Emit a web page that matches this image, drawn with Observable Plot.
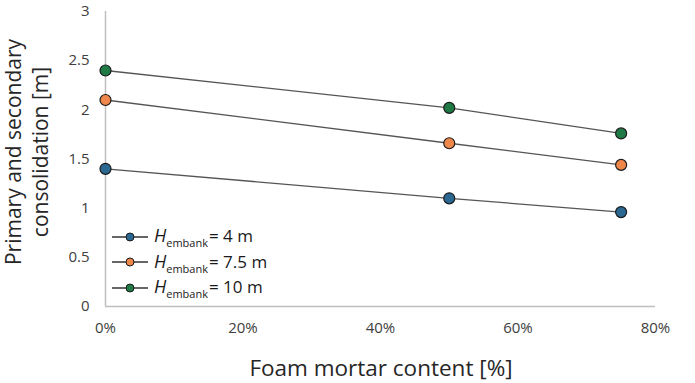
<!DOCTYPE html>
<html>
<head>
<meta charset="utf-8">
<script src="https://cdn.jsdelivr.net/npm/d3@7"></script>
<script src="https://cdn.jsdelivr.net/npm/@observablehq/plot@0.6"></script>
<style>
  html, body { margin: 0; padding: 0; background: #fff; }
  #wrap { position: relative; width: 695px; height: 383px; overflow: hidden; font-family: "Open Sans", sans-serif; }
  #ytitle { position: absolute; left: 27px; top: 152px; transform: translate(-50%, -50%) rotate(-90deg);
    font-size: 21px; line-height: 27px; text-align: center; white-space: nowrap; color: #262626; }
  #xtitle { position: absolute; left: 381px; top: 356px; transform: translateX(-50%);
    font-size: 22.5px; line-height: 24px; white-space: nowrap; color: #262626; }
  #legend { position: absolute; left: 112px; top: 224px; font-size: 17px; color: #1a1a1a; }
  .row { display: flex; align-items: center; height: 25.5px; }
  .row svg { margin-right: 6px; }
  .row i { font-size: 18px; }
  .row sub { font-size: 11px; vertical-align: -5px; margin-right: 1px; }
</style>
</head>
<body>
<div id="wrap">
  <div id="chart"></div>
  <div id="ytitle">Primary and secondary<br>consolidation [m]</div>
  <div id="xtitle">Foam mortar content [%]</div>
  <div id="legend"></div>
</div>
<script>
const foamContent = [0, 50, 75];
const seriesNames = ["4 m", "7.5 m", "10 m"];
const seriesColors = ["#2b6891", "#f0874a", "#1f7a45"];
const h4 = [1.40, 1.10, 0.96];
const h75 = [2.10, 1.66, 1.44];
const h10 = [2.40, 2.02, 1.76];
const xTicks = [0, 20, 40, 60, 80];
const yTicks = [0, 0.5, 1, 1.5, 2, 2.5, 3];

const seriesValues = [h4, h75, h10];
const data = [];
seriesValues.forEach((vals, i) => vals.forEach((v, j) => data.push({series: seriesNames[i], x: foamContent[j], y: v})));

const chart = Plot.plot({
  width: 695,
  height: 383,
  marginLeft: 105,
  marginRight: 40,
  marginTop: 11,
  marginBottom: 77,
  style: {fontFamily: "Open Sans, sans-serif", background: "#fff"},
  x: {domain: [0, 80]},
  y: {domain: [0, 3]},
  color: {domain: seriesNames, range: seriesColors},
  marks: [
    Plot.axisX({ticks: xTicks, tickFormat: d => d + "%", tickSize: 0, tickPadding: 16, label: null, fontSize: 15, color: "#404040"}),
    Plot.axisY({ticks: yTicks, tickFormat: d => String(d), tickSize: 0, tickPadding: 16, label: null, fontSize: 15, color: "#404040"}),
    Plot.ruleX([0], {stroke: "#bfbfbf", strokeWidth: 1.5}),
    Plot.ruleY([0], {stroke: "#bfbfbf", strokeWidth: 1.5}),
    Plot.line(data, {x: "x", y: "y", z: "series", stroke: "#555", strokeWidth: 1.3}),
    Plot.dot(data, {x: "x", y: "y", fill: "series", stroke: "#1a1a1a", strokeWidth: 1.2, r: 5.5})
  ]
});
chart.querySelectorAll("g[aria-label$='tick label'] text").forEach(t => { t.style.fontSize = "15px"; });
document.getElementById("chart").appendChild(chart);

const legend = document.getElementById("legend");
seriesNames.forEach((name, i) => {
  const row = document.createElement("div");
  row.className = "row";
  row.innerHTML = `<svg width="36" height="12"><line x1="0" x2="36" y1="6" y2="6" stroke="#333" stroke-width="1.3"/><circle cx="18" cy="6" r="4" fill="${seriesColors[i]}" stroke="#1a1a1a" stroke-width="1"/></svg><span><i>H</i><sub>embank</sub>= ${name}</span>`;
  legend.appendChild(row);
});
</script>
</body>
</html>
